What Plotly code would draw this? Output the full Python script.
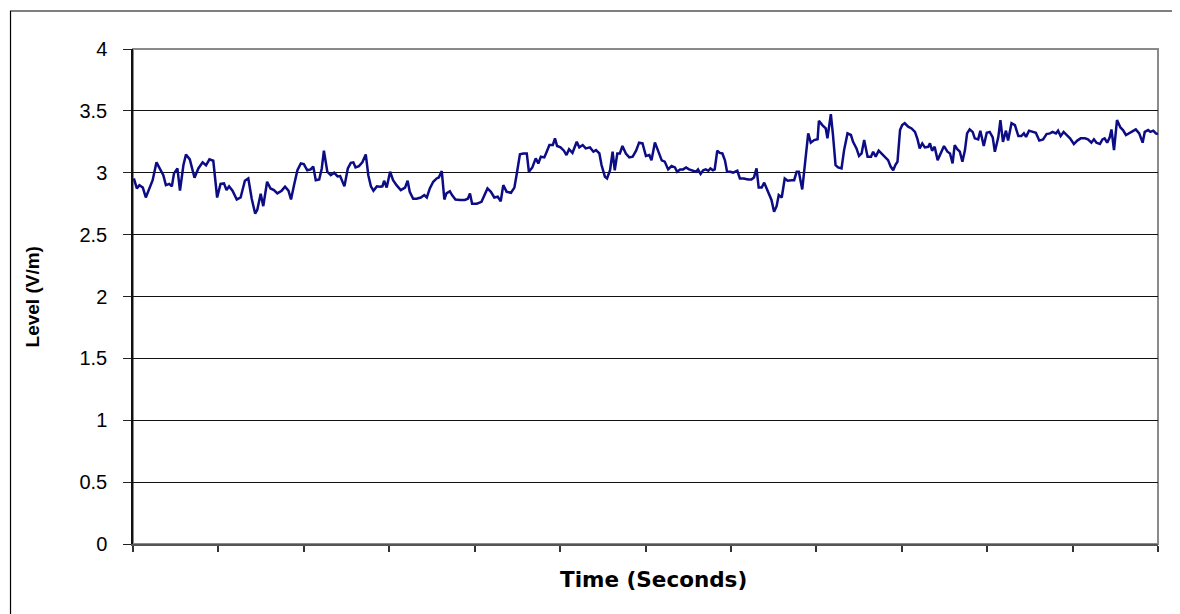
import plotly.graph_objects as go

# Time in seconds (axis spans 0-240 s, 12 unlabeled intervals)
time_s = [
    0.2, 0.9, 1.5, 2.3, 3.0, 3.8, 4.6, 5.5, 6.3, 7.1, 7.7, 8.5, 9.1, 9.6, 10.4, 11.0, 11.8, 12.4, 13.3, 14.4,
    15.3, 16.3, 17.1, 17.9, 18.8, 19.7, 20.5, 21.3, 21.9, 22.5, 23.3, 24.3, 25.2, 26.2, 27.0, 27.8, 28.6, 29.1,
    29.9, 30.5, 31.4, 32.2, 33.0, 33.8, 34.8, 35.6, 36.4, 37.0, 37.7, 38.5, 39.3, 40.0, 40.8, 41.6, 42.2, 42.8,
    43.6, 44.2, 44.7, 45.5, 46.3, 47.1,
    47.9, 48.5, 49.5, 50.3, 51.0, 51.6, 52.1, 52.9, 53.7, 54.5, 55.1, 55.7, 56.3, 57.1, 57.8, 58.4, 58.8, 59.4,
    60.2, 60.9, 61.7, 62.7, 63.7, 64.3, 64.8, 65.6, 66.4, 67.4, 68.2, 68.8, 69.5, 70.3, 71.1, 71.6, 72.3, 72.9,
    73.4, 74.2, 74.7, 75.5, 76.6, 77.7, 78.4, 78.9, 79.4, 80.5, 81.6, 82.2, 83.0, 83.8, 84.6, 85.4, 86.1, 86.7,
    87.5, 88.5, 89.3, 89.8, 90.6, 91.4, 92.2, 92.7, 93.5, 94.3, 94.9, 95.5, 96.3,
    96.7, 97.5, 98.3, 98.8, 99.3, 100.1, 100.9, 101.5, 102.1, 102.9, 103.9, 104.5, 105.3, 106.0, 107.0, 107.8,
    108.4, 109.2, 109.7, 110.5, 111.0, 111.7, 112.3, 112.8, 113.4, 114.0, 114.6, 115.4, 116.2, 117.0, 117.8,
    118.5, 119.3, 120.1, 120.9, 121.4, 122.2, 123.0, 123.8, 124.5, 125.3, 126.1, 126.9, 127.4, 128.1, 128.8,
    129.5, 130.2, 131.0, 131.8, 132.3, 132.9, 133.5, 134.1, 134.7, 135.2, 135.8, 136.2, 136.8, 137.4, 138.0,
    138.6, 139.1, 139.9, 140.5, 141.5, 142.1, 143.0,
    144.0, 144.8, 145.4, 146.0, 146.5, 147.2, 147.8, 148.4, 149.1, 149.5, 150.1, 150.7, 151.2, 151.9, 152.6,
    153.3, 154.2, 154.8, 155.4, 155.9, 156.7, 157.3, 158.1, 158.7, 159.5, 160.3, 160.6, 161.4, 162.2, 162.6,
    163.4, 163.9, 164.5, 165.1, 165.9, 166.5, 167.3, 168.1, 168.6, 169.4, 170.0, 170.6, 171.2, 172.0, 172.8,
    173.3, 173.9, 174.6, 175.4, 176.0, 176.8, 177.4, 178.0, 178.5, 179.0, 179.6, 180.1, 180.7, 181.5, 182.3,
    183.1, 183.7, 184.2, 184.8, 185.4, 186.2, 186.6, 187.1, 187.7, 188.4, 189.2, 189.9, 190.7,
    191.3, 191.9, 192.4, 193.0, 193.6, 194.2, 194.8, 195.3, 195.9, 196.6, 197.1, 197.9, 198.4, 199.2, 199.9,
    200.6, 201.3, 201.8, 202.6, 203.1, 203.7, 204.4, 204.9, 205.7, 206.5, 207.3, 208.0, 208.6, 209.1, 209.8,
    210.6, 211.4, 212.2, 213.1, 213.9, 214.7, 215.3, 216.1, 216.6, 217.2, 217.9, 218.6, 219.4, 220.3, 221.1,
    221.9, 222.9, 223.6, 224.4, 225.0, 225.6, 226.4, 227.0, 227.5, 228.1, 228.7, 229.1, 229.7, 230.4, 231.2,
    231.8, 232.5, 233.2, 234.0, 234.8, 235.6, 236.4, 236.9, 237.7, 238.2, 238.9, 239.5, 240.0,
]

# Field level in V/m
level_vm = [
    2.954, 2.873, 2.90, 2.88, 2.80, 2.87, 2.94, 3.084, 3.035, 2.98, 2.90, 2.91, 2.89, 2.995, 3.035, 2.855, 3.06,
    3.148, 3.108, 2.96, 3.035, 3.084, 3.06, 3.108, 3.097, 2.80, 2.91, 2.914, 2.86, 2.89, 2.855, 2.784, 2.80,
    2.935, 2.954, 2.79, 2.67, 2.70, 2.83, 2.73, 2.927, 2.873, 2.86, 2.833, 2.855, 2.887, 2.855, 2.784, 2.90,
    3.02, 3.075, 3.07, 3.02, 3.027, 3.05, 2.94, 2.946, 3.035, 3.178, 3.008, 2.98, 3.0,
    2.97, 2.973, 2.89, 3.035, 3.08, 3.084, 3.043, 3.054, 3.084, 3.148, 2.98, 2.89, 2.855, 2.89, 2.887, 2.89,
    2.935, 2.88, 3.008, 2.94, 2.90, 2.86, 2.88, 2.935, 2.846, 2.79, 2.79, 2.80, 2.82, 2.80, 2.873, 2.927,
    2.954, 2.962, 3.013, 2.784, 2.833, 2.85, 2.82, 2.784, 2.78, 2.78, 2.79, 2.833, 2.75, 2.75, 2.765, 2.806,
    2.873, 2.846, 2.80, 2.806, 2.77, 2.90, 2.846, 2.838, 2.88, 2.98, 3.15, 3.156, 3.156, 3.008, 3.043, 3.116,
    3.075, 3.13, 3.124,
    3.156, 3.224, 3.224, 3.278, 3.216, 3.205, 3.178, 3.143, 3.19, 3.16, 3.25, 3.205, 3.224, 3.197, 3.205,
    3.17, 3.183, 3.156, 3.062, 2.968, 2.954, 3.02, 3.17, 3.02, 3.156, 3.156, 3.216, 3.156, 3.124, 3.13, 3.178,
    3.243, 3.237, 3.135, 3.143, 3.10, 3.245, 3.17, 3.10, 3.09, 3.027, 3.054, 3.043, 3.008, 3.027, 3.027,
    3.043, 3.027, 3.016, 3.008, 3.027, 2.99, 3.02, 3.027, 3.016, 3.035, 3.02, 3.027, 3.178, 3.16, 3.156,
    3.10, 3.008, 3.008, 3.0, 3.016, 2.954, 2.954,
    2.946, 2.946, 2.962, 3.035, 2.88, 2.88, 2.92, 2.873, 2.82, 2.78, 2.685, 2.73, 2.82, 2.80, 2.954, 2.935,
    2.94, 2.94, 3.008, 3.008, 2.865, 3.05, 3.318, 3.243, 3.264, 3.27, 3.42, 3.385, 3.358, 3.278, 3.474,
    3.305, 3.062, 3.043, 3.035, 3.183, 3.318, 3.305, 3.25, 3.197, 3.135, 3.156, 3.264, 3.13, 3.13, 3.17,
    3.13, 3.178, 3.15, 3.135, 3.102, 3.05, 3.02, 3.062, 3.089, 3.345, 3.385, 3.40, 3.372, 3.358, 3.33, 3.27,
    3.197, 3.237, 3.205, 3.21, 3.237, 3.178, 3.21, 3.102, 3.156, 3.216, 3.17,
    3.156, 3.075, 3.224, 3.19, 3.17, 3.089, 3.183, 3.318, 3.35, 3.33, 3.278, 3.27, 3.34, 3.216, 3.323,
    3.33, 3.286, 3.17, 3.286, 3.426, 3.25, 3.34, 3.26, 3.40, 3.385, 3.296, 3.296, 3.318, 3.29, 3.34,
    3.33, 3.323, 3.26, 3.27, 3.313, 3.318, 3.33, 3.318, 3.34, 3.296, 3.33, 3.305, 3.278, 3.232, 3.26,
    3.278, 3.278, 3.27, 3.243, 3.27, 3.243, 3.232, 3.27, 3.278, 3.243, 3.286, 3.35, 3.183, 3.426, 3.366,
    3.345, 3.305, 3.318, 3.33, 3.35, 3.318, 3.243, 3.33, 3.345, 3.33, 3.34, 3.318, 3.313,
]

y_ticks = [0, 0.5, 1, 1.5, 2, 2.5, 3, 3.5, 4]
y_tick_labels = ["0", "0.5", "1", "1.5", "2", "2.5", "3", "3.5", "4"]
x_ticks = [0, 20, 40, 60, 80, 100, 120, 140, 160, 180, 200, 220, 240]

FONT = "Arial, 'Liberation Sans', sans-serif"
WIDE_BOLD = "'DejaVu Sans', sans-serif"

fig = go.Figure()
fig.add_trace(go.Scatter(
    x=time_s, y=level_vm, mode="lines",
    line=dict(color="#0c0c84", width=2.5),
    showlegend=False, hoverinfo="skip",
))

fig.update_layout(
    width=1172, height=606,
    margin=dict(l=125, r=22, t=41, b=70),
    paper_bgcolor="white", plot_bgcolor="white",
    font=dict(family=FONT, color="black"),
    showlegend=False,
    xaxis=dict(
        range=[0, 240], tickvals=x_ticks, showticklabels=False,
        ticks="outside", ticklen=6, tickwidth=1.5, tickcolor="#333333",
        showgrid=False, zeroline=False,
        showline=True, linecolor="#555555", linewidth=2,
    ),
    yaxis=dict(
        range=[0, 4], tickvals=y_ticks, ticktext=y_tick_labels,
        ticks="outside", ticklen=8, tickwidth=1, tickcolor="#222222",
        ticklabelstandoff=12,
        tickfont=dict(size=20, family=FONT, color="black"),
        showgrid=True, gridcolor="#111111", gridwidth=1,
        zeroline=False,
        showline=True, linecolor="#111111", linewidth=1.5,
    ),
    shapes=[
        dict(type="rect", xref="paper", yref="paper", x0=0, y0=0, x1=1, y1=1,
             line=dict(color="#8a8a8a", width=2), layer="below"),
        dict(type="rect", xref="paper", yref="paper", x0=-0.1195, y0=-0.2, x1=1.1, y1=1.0768,
             line=dict(color="black", width=1.2), layer="below"),
    ],
    annotations=[
        dict(text="<b>Time (Seconds)</b>", xref="paper", yref="paper", x=0.508, y=-0.0727,
             showarrow=False, xanchor="center", yanchor="middle",
             font=dict(size=21.5, family=WIDE_BOLD, color="black")),
        dict(text="<b>Level (V/m)</b>", xref="paper", yref="paper", x=-0.0976, y=0.5,
             showarrow=False, textangle=-90, xanchor="center", yanchor="middle",
             font=dict(size=19, family=FONT, color="black")),
    ],
)

fig.write_html("out.html")
